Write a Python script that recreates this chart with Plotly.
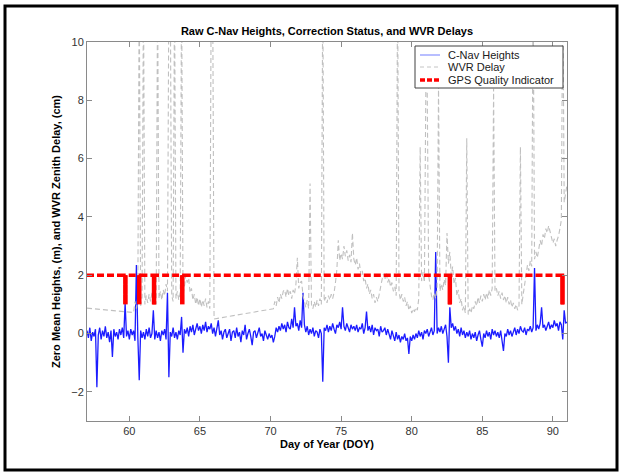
import numpy as np
import plotly.graph_objects as go

# ---------------- text ----------------
TITLE = "Raw C-Nav Heights, Correction Status, and WVR Delays"
X_TITLE = "Day of Year (DOY)"
Y_TITLE = "Zero Mean Heights, (m), and WVR Zenith Delay, (cm)"
SERIES_NAMES = ["C-Nav Heights", "WVR Delay", "GPS Quality Indicator"]

# ---------------- axes ----------------
X_RANGE = [57, 91]
Y_RANGE = [-3, 10]
X_TICKS = [60, 65, 70, 75, 80, 85, 90]
Y_TICKS = [-2, 0, 2, 4, 6, 8, 10]

# ---------------- data ----------------
SAMPLE_STEP = 0.1  # days between samples

# C-Nav heights (m), one row per day, 10 samples per day, from DOY 57.0
CNAV_START = 57.0
CNAV_HEIGHTS = [
    0.1, -0.15, 0.2, -0.25, 0.05, -0.1, 0.15, -1.84, -0.05, 0.2,      # 57
    -0.2, 0.1, -0.1, 0.25, -0.15, 0.05, -0.3, 0.1, -0.8, 0.15,        # 58
    -0.1, 0.05, -0.2, 0.15, -0.05, 0.2, -0.15, 1.05, -0.1, 0.1,       # 59
    -0.2, 0.15, -0.05, 0.1, -0.25, 2.35, -0.1, -1.6, 0.1, -0.15,      # 60
    0.05, -0.2, 0.15, -0.1, 0.2, -0.15, 0.0, 0.8, -0.2, 0.1,          # 61
    -0.15, 0.05, -0.25, 0.1, -0.05, 0.15, -0.2, 1.4, -1.5, 0.05,      # 62
    -0.1, 0.2, -0.15, 0.05, -0.2, 0.1, -0.05, 0.57, -0.66, 0.15,      # 63
    0.0, 0.2, -0.1, 0.25, 0.05, 0.3, -0.05, 0.2, 0.35, 0.1,           # 64
    0.25, 0.0, 0.3, 0.1, 0.4, 0.05, 0.25, 0.15, 0.35, 0.0,            # 65
    0.2, -0.1, 0.15, 0.45, -0.05, 0.1, -0.2, 0.05, 0.15, -0.15,       # 66
    0.0, 0.15, -0.25, 0.05, 0.1, -0.15, 0.2, -0.1, 0.05, -0.3,        # 67
    0.1, -0.05, 0.3, -0.2, 0.0, 0.15, -0.1, -0.4, 0.05, 0.1,          # 68
    -0.15, 0.05, 0.2, -0.1, 0.0, -0.25, 0.1, -0.05, -0.2, 0.0,        # 69
    -0.15, -0.05, -0.3, -0.1, 0.2, 0.05, 0.25, 0.1, 0.35, 0.15,       # 70
    0.3, 0.05, 0.4, 0.2, 0.15, 0.5, 0.2, 0.9, 0.25, 0.35,             # 71
    0.1, 0.45, 0.2, 1.4, 0.3, 0.05, 0.25, -0.05, 0.15, 0.0,           # 72
    0.2, -0.1, 0.1, 0.05, -0.15, 0.15, 0.0, -1.65, 0.2, 0.1,          # 73
    0.3, 0.05, 0.25, 0.1, 0.35, 0.15, 0.0, 0.3, 0.2, 0.4,             # 74
    0.15, 0.9, 0.25, 0.1, 0.35, 0.2, 0.05, 0.3, 0.15, 0.25,           # 75
    0.1, 0.3, 0.05, 0.2, 0.15, 0.35, 0.0, 0.2, 0.75, 0.1,             # 76
    0.25, 0.05, 0.3, -0.05, 0.2, 0.1, 0.15, -0.1, 0.25, 0.05,         # 77
    0.1, 0.2, -0.05, 0.15, 0.0, -0.2, 0.1, -0.1, -0.25, 0.05,         # 78
    -0.2, -0.05, -0.3, -0.1, -0.2, 0.0, -0.25, -0.15, -0.7, -0.1,     # 79
    -0.25, -0.05, -0.2, 0.0, -0.15, 0.1, -0.1, 0.05, -0.2, 0.1,       # 80
    0.0, 0.15, -0.1, 0.05, 0.2, -0.05, 0.1, 2.8, 0.0, 0.2,            # 81
    0.05, 0.25, 0.0, 0.15, 0.3, -0.1, -1.0, 0.9, 0.2, 0.35,           # 82
    0.1, 0.25, 0.0, 0.15, -0.1, 0.2, -0.05, 0.1, -0.15, 0.05,         # 83
    -0.1, 0.1, -0.2, 0.0, -0.15, 0.05, -0.25, -0.05, 0.1, -0.2,       # 84
    -0.45, 0.0, -0.15, 0.1, -0.1, 0.05, -0.2, 0.15, -0.05, 0.1,       # 85
    -0.1, 0.05, -0.15, 0.1, -0.2, -0.6, 0.0, -0.1, 0.15, -0.05,       # 86
    0.1, -0.1, 0.05, 0.2, -0.05, 0.15, 0.0, 0.25, 0.1, 0.05,          # 87
    0.2, -0.05, 0.15, 0.1, 0.25, 0.05, 0.2, 2.25, 0.1, 0.3,           # 88
    0.15, 0.35, 0.9, 0.2, 0.3, 0.1, 0.25, 0.4, 0.15, 0.3,             # 89
    0.2, 0.45, 0.25, 0.35, 0.1, 0.4, 0.3, -0.2, 0.8, 0.35,            # 90
    0.4,                                                              # 91.0
]

# WVR zenith delay (cm): first sample, then two continuous blocks
WVR_FIRST_DAY = 57.0
WVR_FIRST_VALUE = 0.87
WVR_BLOCK1_START = 60.3
WVR_BLOCK1 = [
    0.72, 1.1, 0.85, 1.2, 12.0, 0.95, 1.25,                            # 60.3-60.9
    12.0, 1.0, 1.3, 1.05, 1.35, 1.1, 1.4, 1.15, 1.3, 1.0,             # 61
    12.0, 1.2, 1.45, 1.15, 1.5, 1.3, 1.7, 1.45, 12.0, 12.0,           # 62
    1.3, 1.1, 12.0, 1.2, 1.45, 1.15, 1.4, 12.0, 1.35, 1.6,            # 63
    2.0, 1.75, 1.9, 1.4, 1.55, 1.15, 1.35, 1.0, 1.25, 0.95,           # 64
    1.2, 0.9, 1.15, 0.95, 1.2, 0.9, 1.1, 0.85, 12.0, 12.0,            # 65
    0.5,                                                              # 66.0
]
WVR_BLOCK2_START = 70.2
WVR_BLOCK2 = [
    0.85, 1.1, 0.95, 1.25, 1.05, 1.35, 1.2, 1.45,                     # 70.2-70.9
    1.5, 1.25, 1.55, 1.3, 1.45, 1.2, 1.5, 1.35, 1.7, 2.6,             # 71
    1.55, 1.75, 1.8, 1.3, 1.1, 0.9, 1.15, 0.85, 5.15, 1.0,            # 72
    0.85, 1.1, 0.9, 1.15, 0.95, 1.2, 1.0, 12.0, 1.1, 1.25,            # 73
    1.05, 1.3, 1.15, 1.35, 1.2, 1.4, 1.75, 2.2, 3.2, 2.5,             # 74
    2.75, 2.55, 3.0, 2.65, 2.85, 2.5, 2.7, 2.45, 3.45, 2.55,          # 75
    2.35, 2.6, 2.2, 2.4, 2.0, 2.15, 1.8, 1.9, 1.55, 1.7,              # 76
    1.35, 1.5, 1.2, 1.35, 1.05, 1.25, 1.1, 1.4, 1.6, 1.85,            # 77
    2.05, 1.85, 2.1, 1.75, 1.9, 1.6, 1.75, 1.45, 1.6, 1.3,            # 78
    12.0, 1.45, 1.15, 1.35, 1.1, 1.25, 0.95, 1.1, 0.8, 0.95,          # 79
    0.7, 0.85, 0.75, 0.9, 0.8, 1.2, 6.4, 1.8, 2.1, 1.75,              # 80
    8.3, 8.3, 2.0, 1.6, 1.3, 1.15, 1.4, 1.2, 1.55, 8.5,               # 81
    1.45, 1.7, 1.5, 1.85, 1.65, 3.45, 2.4, 2.8, 2.0, 2.3,             # 82
    1.7, 1.9, 1.3, 1.5, 1.05, 1.2, 0.8, 0.95, 0.7, 6.7,               # 83
    0.65, 0.85, 0.7, 0.95, 0.85, 1.1, 0.95, 1.25, 1.05, 1.3,          # 84
    1.1, 1.35, 1.15, 1.4, 1.2, 1.5, 1.3, 1.55, 8.4, 1.45,             # 85
    1.55, 1.3, 1.45, 1.2, 1.4, 1.15, 1.3, 1.05, 1.25, 1.0,            # 86
    1.15, 0.9, 1.05, 0.85, 1.0, 0.8, 0.95, 6.4, 1.0, 1.35,            # 87
    1.7, 2.05, 2.35, 2.15, 2.5, 2.3, 12.0, 2.55, 2.8, 2.6,            # 88
    2.95, 3.2, 3.0, 3.4, 3.25, 3.6, 3.45, 3.7, 3.5, 3.3,              # 89
    3.1, 3.25, 3.0, 3.2, 3.35, 3.6, 3.9, 12.0, 4.5, 4.8,              # 90
    5.1,                                                              # 91.0
]

# GPS quality indicator: normal level and the days when it dropped
GPS_NORMAL = 2.0
GPS_LOW = 1.0
GPS_DROP_DAYS = [59.72, 60.7, 61.75, 63.75, 82.7, 90.68]

# ---------------- styles ----------------
FONT = "Liberation Sans, Arial, sans-serif"
BLUE = "#1c1cff"
GRAY = "#c0c0c0"
RED = "#ff0000"
AXIS_GRAY = "#8a8a8a"
W, H = 623, 472
L, R, T, B = 87, 56, 42, 51


def sample_days(start, n):
    return np.round(start + SAMPLE_STEP * np.arange(n), 2)


cnav_x = sample_days(CNAV_START, len(CNAV_HEIGHTS))
wvr_x = np.concatenate([[WVR_FIRST_DAY],
                        sample_days(WVR_BLOCK1_START, len(WVR_BLOCK1)),
                        sample_days(WVR_BLOCK2_START, len(WVR_BLOCK2))])
wvr_y = np.concatenate([[WVR_FIRST_VALUE], WVR_BLOCK1, WVR_BLOCK2])

gps_x, gps_y = [X_RANGE[0]], [GPS_NORMAL]
bar_x, bar_y = [], []
for d in GPS_DROP_DAYS:
    gps_x += [d, d, d]
    gps_y += [GPS_NORMAL, GPS_LOW, GPS_NORMAL]
    bar_x += [d, d, None]
    bar_y += [GPS_NORMAL, GPS_LOW, None]
gps_x.append(X_RANGE[1])
gps_y.append(GPS_NORMAL)

fig = go.Figure()
fig.add_trace(go.Scatter(x=cnav_x, y=CNAV_HEIGHTS, mode="lines", name=SERIES_NAMES[0],
                         line=dict(color=BLUE, width=1.3)))
fig.add_trace(go.Scatter(x=wvr_x, y=wvr_y, mode="lines", name=SERIES_NAMES[1],
                         line=dict(color=GRAY, width=1.1, dash="5px,3px")))
fig.add_trace(go.Scatter(x=gps_x, y=gps_y, mode="lines", name=SERIES_NAMES[2],
                         line=dict(color=RED, width=3.5, dash="7px,3px")))
fig.add_trace(go.Scatter(x=bar_x, y=bar_y, mode="lines", showlegend=False,
                         line=dict(color=RED, width=4.5)))

pw, ph = W - L - R, H - T - B


def px(xp):
    return (xp - L) / pw


def py(yp):
    return (H - B - yp) / ph


shapes = [
    # outer frame
    dict(type="rect", xref="paper", yref="paper", x0=px(5), x1=px(617), y0=py(470), y1=py(6),
         line=dict(color="black", width=3), layer="above"),
    # legend box
    dict(type="rect", xref="paper", yref="paper", x0=px(415), x1=px(563), y0=py(88), y1=py(46),
         line=dict(color="#404040", width=1), fillcolor="white", layer="above"),
]
legend_rows = [55, 67, 80]
legend_styles = [dict(color="#a0a8ff", width=1.5),
                 dict(color="#c4c4c4", width=1, dash="4px,3px"),
                 dict(color=RED, width=3.5, dash="5px,2px")]
annotations = []
for yrow, style, name in zip(legend_rows, legend_styles, SERIES_NAMES):
    shapes.append(dict(type="line", xref="paper", yref="paper", x0=px(420), x1=px(440),
                       y0=py(yrow), y1=py(yrow), line=style, layer="above"))
    annotations.append(dict(xref="paper", yref="paper", x=px(446), y=py(yrow), text=name,
                            showarrow=False, xanchor="left", yanchor="middle",
                            font=dict(family=FONT, size=11, color="#202020")))

axis_common = dict(showline=True, linecolor=AXIS_GRAY, linewidth=1, mirror="ticks",
                   ticks="inside", ticklen=5, tickcolor=AXIS_GRAY, showgrid=False,
                   zeroline=False, tickfont=dict(family=FONT, size=11, color="#333333"))

fig.update_layout(
    width=W, height=H, margin=dict(l=L, r=R, t=T, b=B),
    paper_bgcolor="white", plot_bgcolor="white", showlegend=False,
    title=dict(text=TITLE, x=0.5, xref="paper", xanchor="center",
               y=1 - 31 / H, yref="container", yanchor="middle",
               font=dict(family=FONT, size=11, color="black", weight="bold")),
    xaxis=dict(range=X_RANGE, tickvals=X_TICKS, **axis_common,
               title=dict(text=X_TITLE, standoff=4,
                          font=dict(family=FONT, size=11, color="black", weight="bold"))),
    yaxis=dict(range=Y_RANGE, tickvals=Y_TICKS, **axis_common,
               title=dict(text=Y_TITLE, standoff=8,
                          font=dict(family=FONT, size=11, color="black", weight="bold"))),
    shapes=shapes, annotations=annotations,
)

fig.write_html("out.html", config={"displayModeBar": False})

# remove the browser's default body margin so the figure fills the window exactly
with open("out.html", encoding="utf-8") as f:
    page = f.read()
page = page.replace("<head>", "<head><style>html,body{margin:0;padding:0;overflow:hidden;}</style>", 1)
with open("out.html", "w", encoding="utf-8") as f:
    f.write(page)
